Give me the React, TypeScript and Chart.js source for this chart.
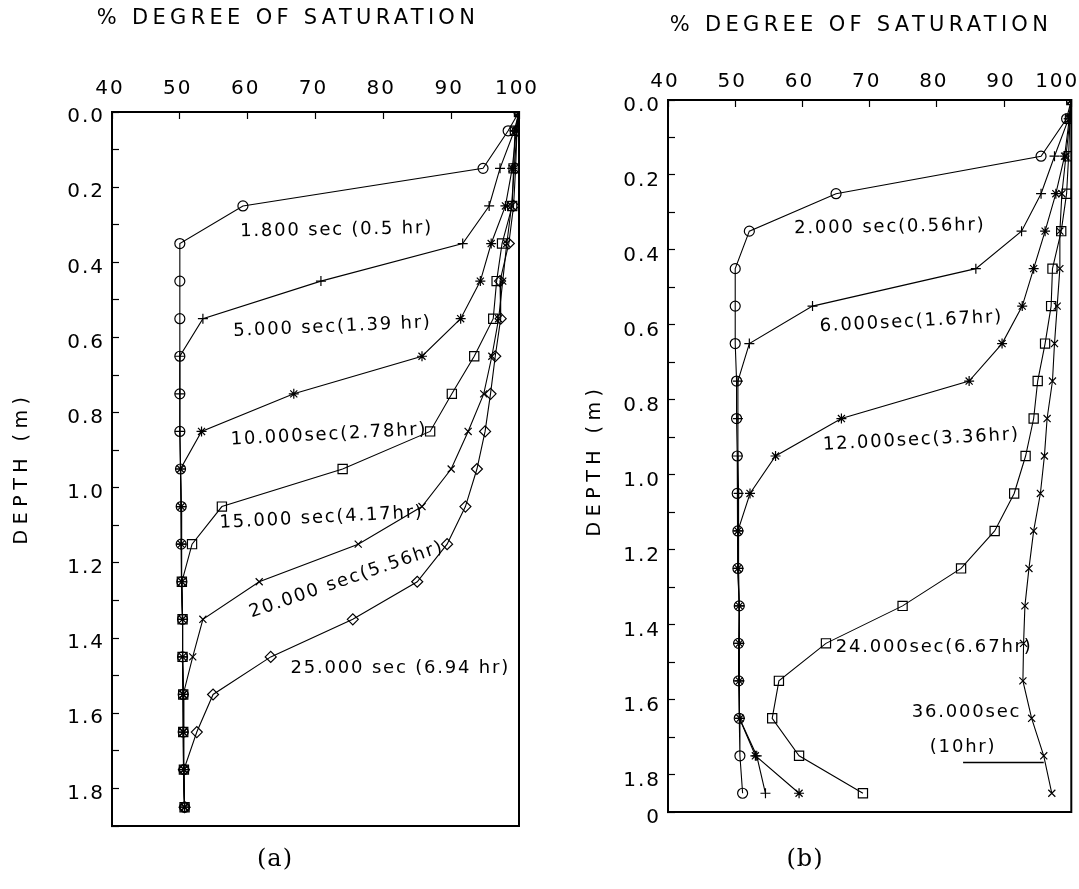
import React, { useEffect, useRef } from 'react';
import { Chart, registerables } from 'chart.js';

Chart.register(...registerables);

// ---------- data ----------
const DEPTHS = [0, 0.05, 0.15, 0.25, 0.35, 0.45, 0.55, 0.65, 0.75, 0.85, 0.95, 1.05, 1.15, 1.25, 1.35, 1.45, 1.55, 1.65, 1.75, 1.85];
const X_MIN = 40;
const X_MAX = 100;
const X_STEP = 10;
const Y_MAX = 1.9;
const Y_STEP = 0.1;

// panel (a)
const A_1800 = [100, 98.4, 94.7, 59.3, 50.0, 50.0, 50.0, 50.0, 50.0, 50.0, 50.1, 50.2, 50.2, 50.3, 50.4, 50.4, 50.5, 50.5, 50.6, 50.7];
const A_5000 = [100, 99.3, 97.2, 95.6, 91.7, 70.8, 53.4, 50.0, 50.0, 50.0, 50.1, 50.2, 50.2, 50.3, 50.4, 50.4, 50.5, 50.5, 50.6, 50.7];
const A_10000 = [100, 99.6, 99.0, 98.0, 95.9, 94.3, 91.4, 85.7, 66.8, 53.2, 50.1, 50.2, 50.2, 50.3, 50.4, 50.4, 50.5, 50.5, 50.6, 50.7];
const A_15000 = [100, 99.4, 99.2, 99.0, 97.5, 96.7, 96.2, 93.4, 90.1, 86.9, 74.0, 56.2, 51.8, 50.3, 50.4, 50.4, 50.5, 50.5, 50.6, 50.7];
const A_20000 = [100, 99.7, 99.3, 98.9, 98.2, 97.6, 97.0, 96.0, 94.8, 92.5, 90.0, 85.7, 76.3, 61.7, 53.4, 51.9, 50.5, 50.5, 50.6, 50.7];
const A_25000 = [100, 99.7, 99.5, 99.2, 98.5, 97.2, 97.3, 96.5, 95.8, 95.0, 93.8, 92.1, 89.4, 85.0, 75.5, 63.4, 54.9, 52.5, 50.6, 50.7];

// panel (b)
const B_2000 = [100, 99.3, 95.5, 65.0, 52.1, 50.0, 50.0, 50.0, 50.2, 50.2, 50.3, 50.3, 50.4, 50.4, 50.6, 50.5, 50.5, 50.6, 50.7, 51.1];
const B_6000 = [100, 99.6, 97.5, 95.5, 92.6, 85.8, 61.5, 52.1, 50.4, 50.4, 50.4, 50.5, 50.5, 50.5, 50.6, 50.6, 50.6, 50.7, 53.2, 54.5];
const B_12000 = [100, 99.7, 99.0, 97.7, 96.1, 94.4, 92.7, 89.7, 84.8, 65.8, 56.0, 52.2, 50.4, 50.4, 50.6, 50.6, 50.6, 50.7, 53.0, 59.5];
const B_24000 = [100, 99.8, 99.6, 99.3, 98.5, 97.2, 97.0, 96.1, 95.0, 94.4, 93.2, 91.5, 88.6, 83.6, 74.9, 63.5, 56.5, 55.5, 59.5, 69.0];
const B_36000 = [100, 99.8, 99.2, 98.6, 98.3, 98.3, 97.9, 97.5, 97.2, 96.4, 96.0, 95.4, 94.4, 93.7, 93.1, 92.9, 92.8, 94.1, 95.9, 97.1];

const SERIES_A = [
  { label: '1,800 sec', values: A_1800, marker: 'circle' },
  { label: '5,000 sec', values: A_5000, marker: 'cross' },
  { label: '10,000 sec', values: A_10000, marker: 'star' },
  { label: '15,000 sec', values: A_15000, marker: 'rect' },
  { label: '20,000 sec', values: A_20000, marker: 'crossRot' },
  { label: '25,000 sec', values: A_25000, marker: 'rectRot' },
];
const SERIES_B = [
  { label: '2,000 sec', values: B_2000, marker: 'circle' },
  { label: '6,000 sec', values: B_6000, marker: 'cross' },
  { label: '12,000 sec', values: B_12000, marker: 'star' },
  { label: '24,000 sec', values: B_24000, marker: 'rect' },
  { label: '36,000 sec', values: B_36000, marker: 'crossRot' },
];

const NOTES_A = [
  { text: '1.800 sec (0.5 hr)', x: 73.1, y: 0.314, rot: -1 },
  { text: '5.000 sec(1.39 hr)', x: 72.5, y: 0.572, rot: -2.5 },
  { text: '10.000sec(2.78hr)', x: 72.0, y: 0.859, rot: -3 },
  { text: '15.000 sec(4.17hr)', x: 70.9, y: 1.08, rot: -3 },
  { text: '20.000 sec(5.56hr)', x: 74.6, y: 1.245, rot: -19 },
  { text: '25.000 sec (6.94 hr)', x: 82.5, y: 1.48, rot: 0 },
];
const NOTES_B = [
  { text: '2.000 sec(0.56hr)', x: 73.0, y: 0.339, rot: -1 },
  { text: '6.000sec(1.67hr)', x: 76.2, y: 0.592, rot: -3 },
  { text: '12.000sec(3.36hr)', x: 77.7, y: 0.907, rot: -3 },
  { text: '24.000sec(6.67hr)', x: 79.6, y: 1.461, rot: 0 },
  { text: '36.000sec', x: 84.4, y: 1.635, rot: 0 },
  { text: '(10hr)', x: 83.9, y: 1.728, rot: 0 },
];
const LEADERS_B = [{ x1: 83.9, x2: 95.9, y: 1.768 }];

type Panel = {
  width: number;
  left: number;
  top: number;
  right: number;
  bottom: number;
  series: { label: string; values: number[]; marker: string }[];
  notes: { text: string; x: number; y: number; rot: number }[];
  leaders: { x1: number; x2: number; y: number }[];
  title: string;
  titleX: number;
  titleY: number;
  yTitleX: number;
  yTitleY: number;
  caption: string;
  capX: number;
  capY: number;
  xPad: number;
  xLabelOffset: number;
  lastLabelInside: boolean;
  yPad: number;
  yLabelOffset: number;
  bottomLabel: string;
};

const FONT = '"DejaVu Sans", "Liberation Sans", sans-serif';
const TICK_LEN = -7;

function textPlugin(p: Panel) {
  return {
    id: 'panelText',
    beforeDraw(chart: any) {
      chart.ctx.letterSpacing = '2px';
    },
    afterDraw(chart: any) {
      const { ctx, chartArea, scales } = chart;
      ctx.save();
      ctx.strokeStyle = '#000';
      ctx.lineWidth = 2;
      ctx.strokeRect(chartArea.left, chartArea.top, chartArea.right - chartArea.left, chartArea.bottom - chartArea.top);
      ctx.fillStyle = '#000';
      ctx.textAlign = 'center';
      ctx.textBaseline = 'middle';
      // last x tick label kept inside the page
      if (p.lastLabelInside) {
        ctx.font = `20px ${FONT}`;
        ctx.letterSpacing = '2px';
        ctx.textAlign = 'right';
        const ly = chartArea.top - (p.xPad + TICK_LEN) - 12;
        ctx.fillText(String(X_MAX), scales.x.getPixelForValue(X_MAX) + 8, ly);
        ctx.textAlign = 'center';
      }
      // main title
      ctx.font = `21px ${FONT}`;
      ctx.letterSpacing = '4.3px';
      ctx.fillText(p.title, p.titleX, p.titleY);
      // y title
      ctx.save();
      ctx.translate(p.yTitleX, p.yTitleY);
      ctx.rotate(-Math.PI / 2);
      ctx.font = `19px ${FONT}`;
      ctx.letterSpacing = '5.5px';
      ctx.fillText('DEPTH (m)', 0, 0);
      ctx.restore();
      // annotations
      ctx.font = `18px ${FONT}`;
      ctx.letterSpacing = '1.8px';
      for (const n of p.notes) {
        const px = scales.x.getPixelForValue(n.x);
        const py = scales.y.getPixelForValue(n.y);
        ctx.save();
        ctx.translate(px, py);
        ctx.rotate((n.rot * Math.PI) / 180);
        ctx.fillText(n.text, 0, 0);
        ctx.restore();
      }
      ctx.lineWidth = 1.5;
      for (const l of p.leaders) {
        const y = scales.y.getPixelForValue(l.y);
        ctx.beginPath();
        ctx.moveTo(scales.x.getPixelForValue(l.x1), y);
        ctx.lineTo(scales.x.getPixelForValue(l.x2), y);
        ctx.stroke();
      }
      // caption
      ctx.font = `24px "DejaVu Serif", serif`;
      ctx.letterSpacing = '1px';
      ctx.fillText(p.caption, p.capX, p.capY);
      ctx.restore();
    },
  };
}

function buildChart(canvas: HTMLCanvasElement, p: Panel) {
  const datasets = p.series.map((s) => ({
    label: s.label,
    data: s.values.map((v, i) => ({ x: v, y: DEPTHS[i] })),
    showLine: true,
    borderColor: '#000',
    borderWidth: 1.1,
    backgroundColor: 'rgba(0,0,0,0)',
    pointStyle: s.marker,
    pointRadius: s.marker === 'rect' ? 6.5 : s.marker === 'rectRot' ? 5.5 : 5,
    pointBorderWidth: 1.2,
    pointBorderColor: '#000',
    pointBackgroundColor: 'rgba(0,0,0,0)',
    tension: 0,
  }));
  const tickFont = { family: FONT, size: 20 };
  const yLabel = (v: any) => {
    const r = Math.round(Number(v) * 10);
    if (r === 19) return p.bottomLabel;
    return r % 2 === 0 ? (r / 10).toFixed(1) : '';
  };
  const xLabel = (v: any) => (p.lastLabelInside && Number(v) === X_MAX ? '' : String(v));
  return new Chart(canvas, {
    type: 'scatter',
    data: { datasets },
    plugins: [textPlugin(p)],
    options: {
      animation: false,
      responsive: false,
      maintainAspectRatio: false,
      devicePixelRatio: 1,
      layout: { padding: { left: 0, right: p.width - p.right, top: 0, bottom: 889 - p.bottom } },
      plugins: { legend: { display: false }, tooltip: { enabled: false }, title: { display: false } },
      scales: {
        x: {
          type: 'linear',
          position: 'top',
          min: X_MIN,
          max: X_MAX,
          ticks: {
            stepSize: X_STEP,
            autoSkip: false,
            padding: p.xPad,
            labelOffset: p.xLabelOffset,
            font: tickFont,
            color: '#000',
            maxRotation: 0,
            callback: xLabel,
          },
          grid: { display: true, drawOnChartArea: false, drawTicks: true, tickLength: TICK_LEN, tickColor: '#000', tickWidth: 1.2 },
          border: { display: true, color: '#000', width: 2 },
          afterFit: (s: any) => {
            s.height = p.top;
            s.paddingLeft = 0;
            s.paddingRight = 0;
          },
        },
        y: {
          type: 'linear',
          reverse: true,
          min: 0,
          max: Y_MAX,
          ticks: {
            stepSize: Y_STEP,
            autoSkip: false,
            padding: p.yPad,
            labelOffset: p.yLabelOffset,
            font: tickFont,
            color: '#000',
            callback: yLabel,
          },
          grid: { display: true, drawOnChartArea: false, drawTicks: true, tickLength: TICK_LEN, tickColor: '#000', tickWidth: 1.2 },
          border: { display: true, color: '#000', width: 2 },
          afterFit: (s: any) => {
            s.width = p.left;
            s.paddingTop = 0;
            s.paddingBottom = 0;
          },
        },
      },
    },
  } as any);
}

const PANEL_A: Panel = {
  width: 540,
  left: 112,
  top: 112,
  right: 519,
  bottom: 826,
  series: SERIES_A,
  notes: NOTES_A,
  leaders: [],
  title: '% DEGREE OF SATURATION',
  titleX: 288,
  titleY: 19,
  yTitleX: 22,
  yTitleY: 468,
  caption: '(a)',
  capX: 275,
  capY: 860,
  xPad: 18,
  xLabelOffset: -2,
  lastLabelInside: false,
  yPad: 14,
  yLabelOffset: 5,
  bottomLabel: '',
};

const PANEL_B: Panel = {
  width: 539,
  left: 128,
  top: 100,
  right: 532,
  bottom: 812,
  series: SERIES_B,
  notes: NOTES_B,
  leaders: LEADERS_B,
  title: '% DEGREE OF SATURATION',
  titleX: 321,
  titleY: 26,
  yTitleX: 55,
  yTitleY: 460,
  caption: '(b)',
  capX: 265,
  capY: 860,
  xPad: 13,
  xLabelOffset: -3,
  lastLabelInside: true,
  yPad: 14,
  yLabelOffset: 6,
  bottomLabel: '0',
};

function PanelCanvas({ panel, x }: { panel: Panel; x: number }) {
  const ref = useRef<HTMLCanvasElement | null>(null);
  useEffect(() => {
    if (!ref.current) return;
    const chart = buildChart(ref.current, panel);
    return () => chart.destroy();
  }, [panel]);
  return (
    <canvas
      ref={ref}
      width={panel.width}
      height={889}
      style={{ position: 'absolute', left: x, top: 0, width: panel.width, height: 889 }}
    />
  );
}

export default function App() {
  return (
    <div style={{ position: 'absolute', left: 0, top: 0, width: 1079, height: 889, background: '#fff' }}>
      <PanelCanvas panel={PANEL_A} x={0} />
      <PanelCanvas panel={PANEL_B} x={540} />
    </div>
  );
}
